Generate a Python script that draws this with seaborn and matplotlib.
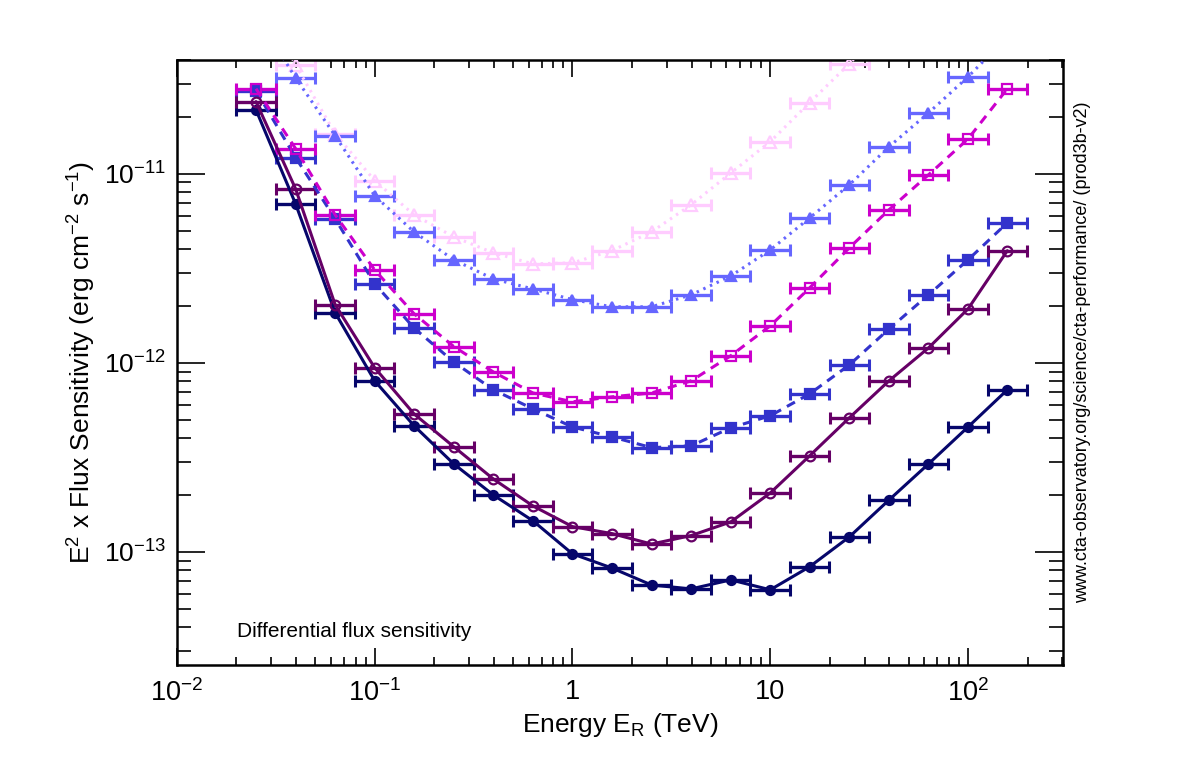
import numpy as np
import pandas as pd
import matplotlib
matplotlib.use("Agg")
import matplotlib.pyplot as plt
import matplotlib.ticker as mticker
import seaborn as sns

# bin centres (TeV), 5 bins per decade
energy = [0.0251, 0.0398, 0.0631, 0.1, 0.158, 0.251, 0.398, 0.631, 1.0, 1.58,
          2.51, 3.98, 6.31, 10.0, 15.8, 25.1, 39.8, 63.1, 100.0, 158.0]

# E^2 x flux sensitivity (erg cm-2 s-1)
sens_pink = [1.0e-10, 3.77e-11, 1.63e-11, 9.2e-12, 6.07e-12, 4.64e-12, 3.82e-12, 3.34e-12, 3.38e-12, 3.92e-12,
             4.93e-12, 6.86e-12, 1.01e-11, 1.48e-11, 2.38e-11, 3.82e-11, 6.5e-11, np.nan, np.nan, np.nan]
sens_violet = [7.0e-11, 3.22e-11, 1.59e-11, 7.65e-12, 4.93e-12, 3.51e-12, 2.78e-12, 2.46e-12, 2.16e-12, 1.98e-12,
               1.98e-12, 2.29e-12, 2.88e-12, 3.96e-12, 5.84e-12, 8.74e-12, 1.39e-11, 2.1e-11, 3.26e-11, 5.3e-11]
sens_blue = [2.75e-11, 1.22e-11, 5.78e-12, 2.62e-12, 1.53e-12, 1.01e-12, 7.2e-13, 5.71e-13, 4.58e-13, 4.06e-13,
             3.56e-13, 3.64e-13, 4.53e-13, 5.25e-13, 6.85e-13, 9.75e-13, 1.51e-12, 2.29e-12, 3.51e-12, 5.51e-12]
sens_magenta = [2.82e-11, 1.36e-11, 6.07e-12, 3.1e-12, 1.82e-12, 1.22e-12, 8.95e-13, 6.93e-13, 6.22e-13, 6.61e-13,
                6.93e-13, 8.03e-13, 1.09e-12, 1.57e-12, 2.49e-12, 4.06e-12, 6.45e-12, 9.88e-12, 1.53e-11, 2.82e-11]
sens_purple = [2.41e-11, 8.33e-12, 2.03e-12, 9.42e-13, 5.37e-13, 3.6e-13, 2.43e-13, 1.75e-13, 1.36e-13, 1.25e-13,
               1.10e-13, 1.22e-13, 1.44e-13, 2.05e-13, 3.22e-13, 5.12e-13, 8.03e-13, 1.2e-12, 1.93e-12, 3.92e-12]
sens_navy = [2.18e-11, 6.94e-12, 1.84e-12, 8.03e-13, 4.65e-13, 2.92e-13, 2.0e-13, 1.46e-13, 9.76e-14, 8.22e-14,
             6.68e-14, 6.37e-14, 7.11e-14, 6.3e-14, 8.34e-14, 1.2e-13, 1.88e-13, 2.92e-13, 4.58e-13, 7.2e-13]

x_ticks = [0.01, 0.1, 1, 10, 100]
x_tick_labels = [r"$10^{-2}$", r"$10^{-1}$", "1", "10", r"$10^{2}$"]
y_ticks = [1e-13, 1e-12, 1e-11]
y_tick_labels = [r"$10^{-13}$", r"$10^{-12}$", r"$10^{-11}$"]

sns.set_style("ticks")
plt.rcParams["font.family"] = ["Liberation Sans", "DejaVu Sans"]
plt.rcParams["mathtext.fontset"] = "custom"
plt.rcParams["mathtext.rm"] = "Liberation Sans"
plt.rcParams["mathtext.it"] = "Liberation Sans:italic"
plt.rcParams["mathtext.default"] = "regular"
for key in ["text.color", "axes.labelcolor", "xtick.color", "ytick.color"]:
    plt.rcParams[key] = "black"

fig = plt.figure(figsize=(11.82, 7.57), dpi=100)
ax = fig.add_axes([0.1497, 0.1215, 0.7496, 0.7992])
ax.set_xscale("log")
ax.set_yscale("log")

# (values, colour, marker, open marker?, linestyle, marker size)
series = [
    (sens_pink, "#ffccff", "^", True, (0, (0.8, 1.6)), 8),
    (sens_violet, "#6666ff", "^", False, (0, (0.8, 1.6)), 7),
    (sens_blue, "#3333cc", "s", False, (0, (3, 2.2)), 7),
    (sens_magenta, "#cc00cc", "s", True, (0, (3, 2.2)), 7.5),
    (sens_navy, "#06066b", "o", False, "-", 6.5),
    (sens_purple, "#660066", "o", True, "-", 7),
]

e = np.array(energy)
e_lo = e - e / 10 ** 0.1
e_hi = e * 10 ** 0.1 - e
for vals, col, mk, hollow, ls, ms in series:
    df = pd.DataFrame({"E": energy, "sens": vals}).dropna()
    ax.errorbar(e, vals, xerr=[e_lo, e_hi], fmt="none", ecolor=col,
                elinewidth=2.4, capsize=4, capthick=2.2, zorder=2)
    sns.lineplot(data=df, x="E", y="sens", ax=ax, color=col, lw=2.2,
                 linestyle=ls, marker=mk, markersize=ms,
                 markerfacecolor="none" if hollow else col,
                 markeredgecolor=col, markeredgewidth=1.6, zorder=3)

ax.set_xlim(0.01, 302)
ax.set_ylim(2.52e-14, 4.0e-11)

ax.xaxis.set_major_locator(mticker.FixedLocator(x_ticks))
ax.xaxis.set_major_formatter(mticker.FixedFormatter(x_tick_labels))
ax.xaxis.set_minor_locator(mticker.LogLocator(base=10, subs=np.arange(2, 10), numticks=20))
ax.xaxis.set_minor_formatter(mticker.NullFormatter())
ax.yaxis.set_major_locator(mticker.FixedLocator(y_ticks))
ax.yaxis.set_major_formatter(mticker.FixedFormatter(y_tick_labels))
ax.yaxis.set_minor_locator(mticker.LogLocator(base=10, subs=np.arange(2, 10), numticks=20))
ax.yaxis.set_minor_formatter(mticker.NullFormatter())

ax.tick_params(which="both", direction="in", top=True, right=True, width=1.2, color="black")
ax.tick_params(axis="x", which="major", length=12, pad=10, labelsize=19.5)
ax.tick_params(axis="x", which="minor", length=6)
ax.tick_params(axis="y", which="major", length=20, pad=8, labelsize=19)
ax.tick_params(axis="y", which="minor", length=10)
for sp in ax.spines.values():
    sp.set_linewidth(1.8)
    sp.set_color("black")

ax.set_xlabel(r"Energy E$_R$ (TeV)", fontsize=19, labelpad=3)
ax.set_ylabel(r"E$^2$ x Flux Sensitivity (erg cm$^{-2}$ s$^{-1}$)", fontsize=19, labelpad=4)

ax.text(0.068, 0.055, "Differential flux sensitivity", transform=ax.transAxes,
        fontsize=15, ha="left", va="center")
fig.text(0.916, 0.535, "www.cta-observatory.org/science/cta-performance/ (prod3b-v2)",
         rotation=90, fontsize=13, ha="center", va="center")

fig.savefig("out.png", dpi=100)
